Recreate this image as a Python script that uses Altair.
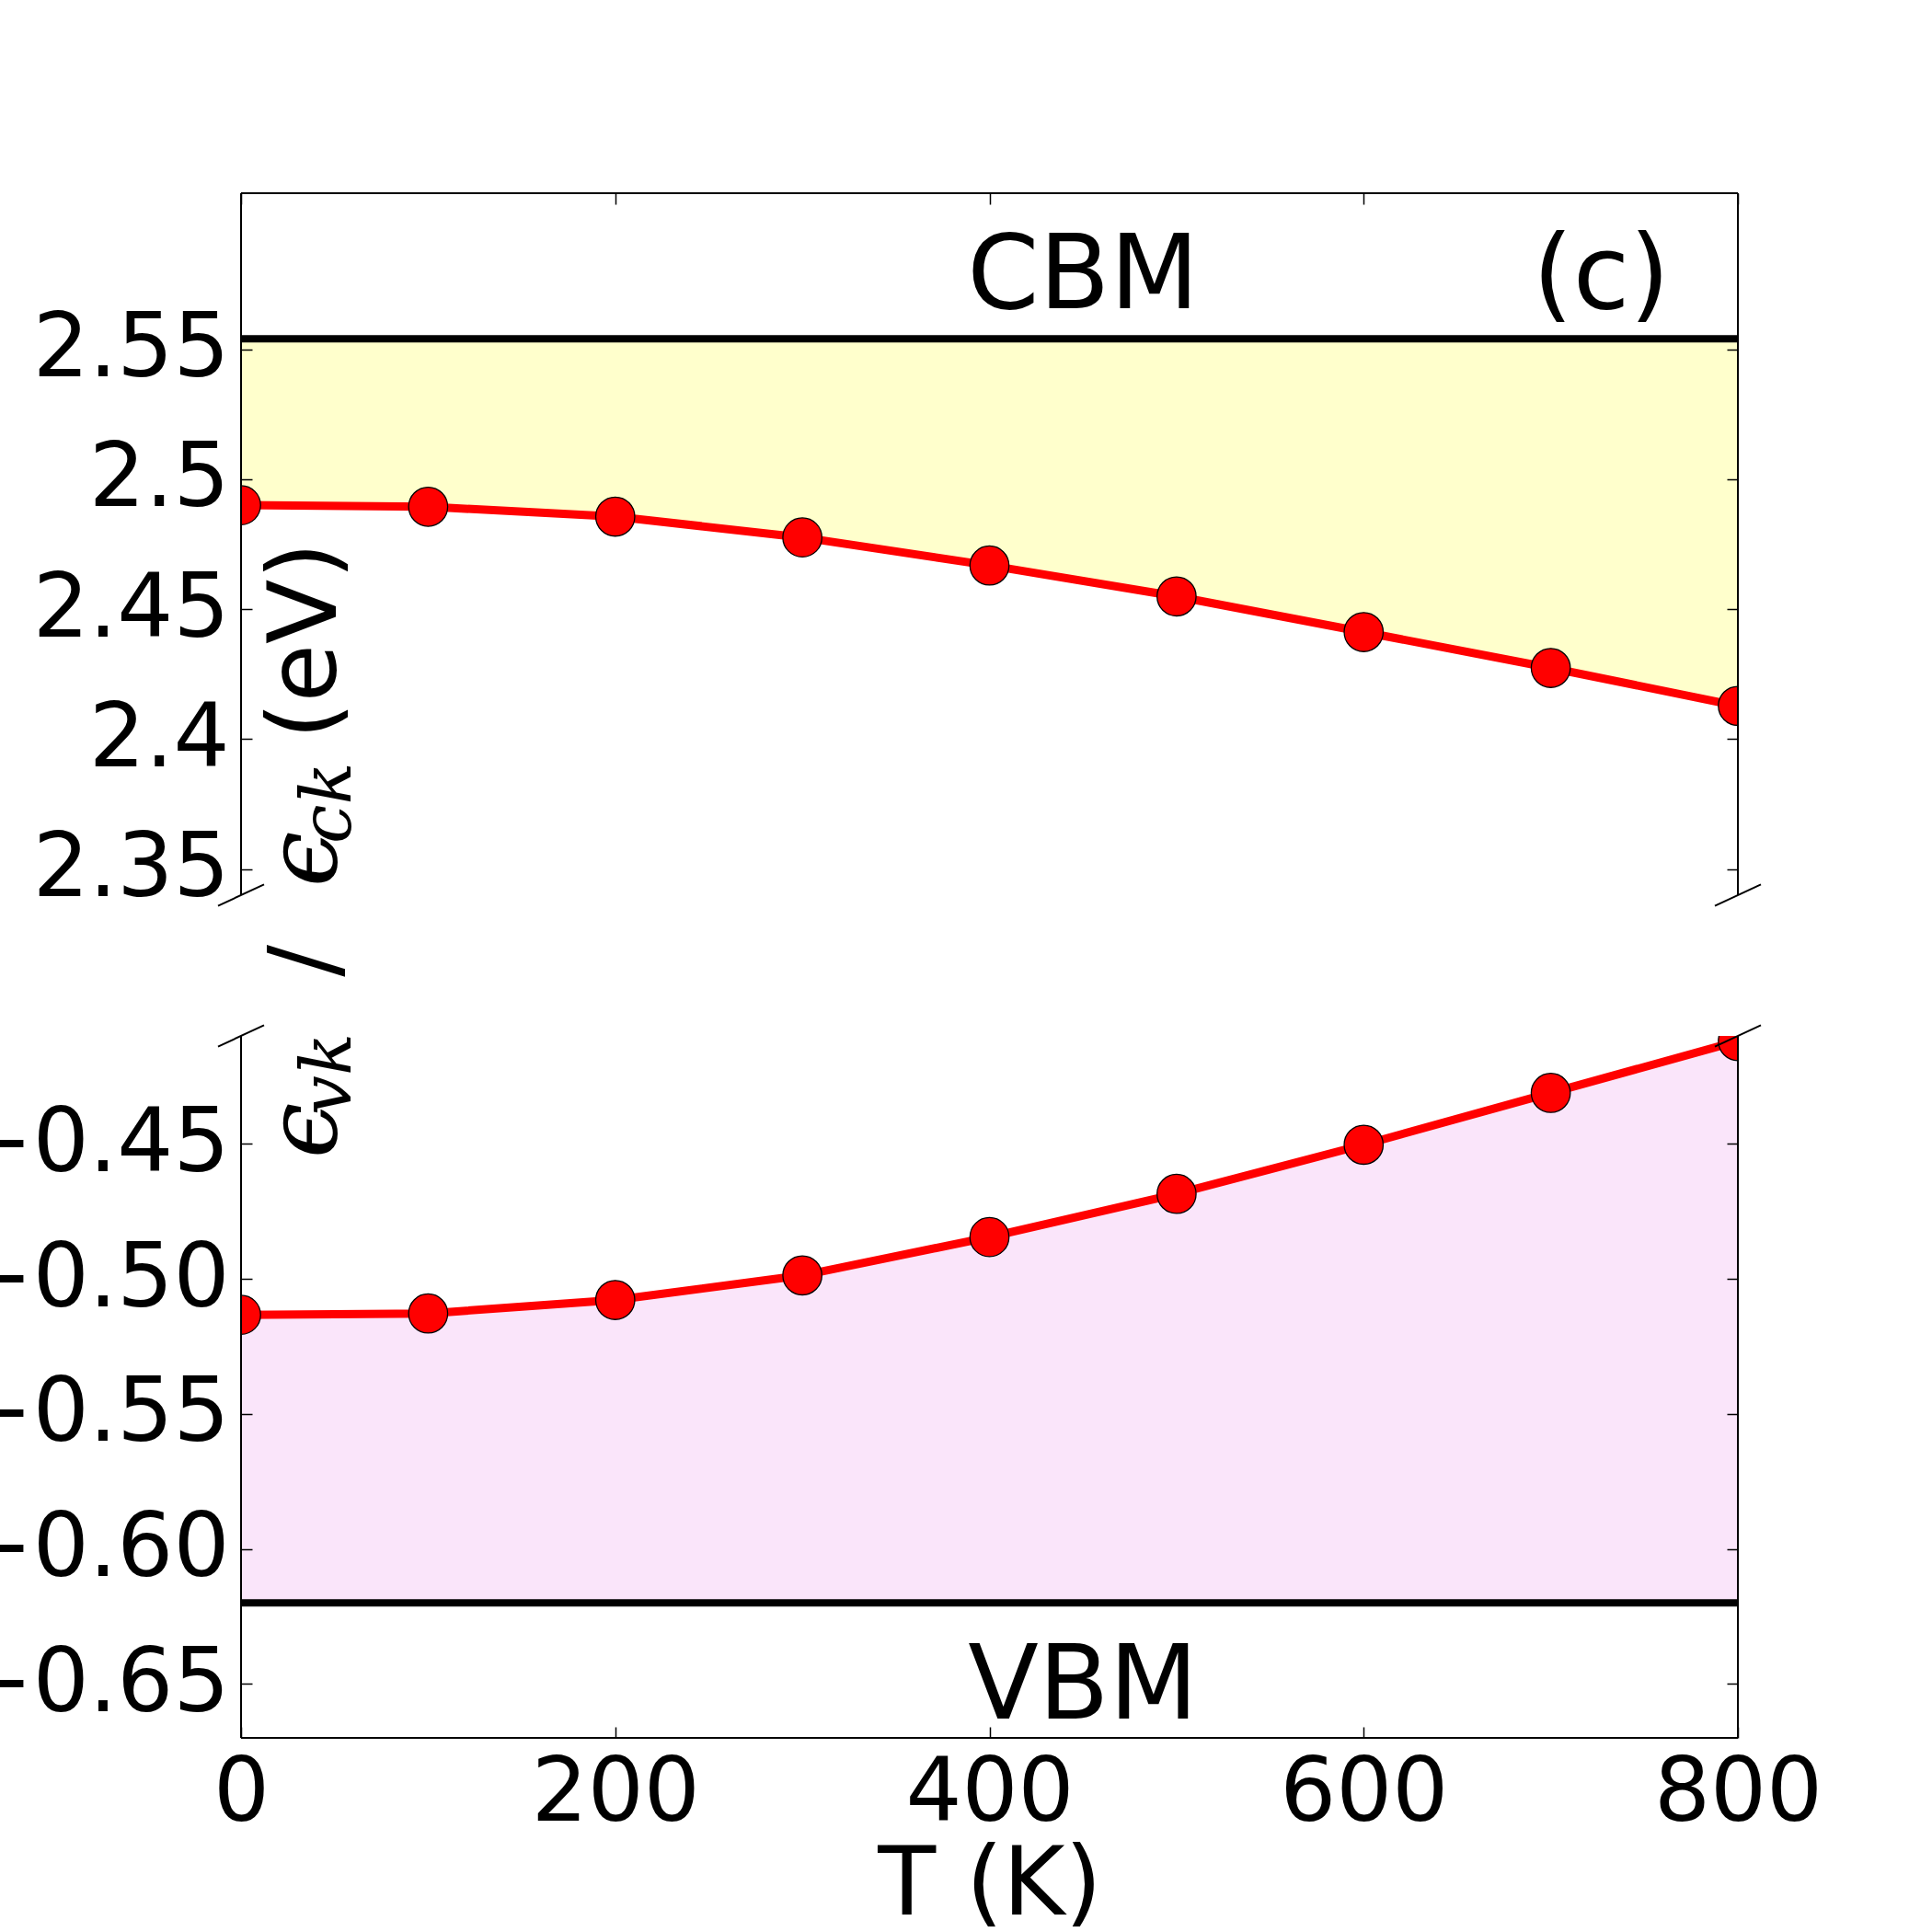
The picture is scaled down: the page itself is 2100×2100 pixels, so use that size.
import altair as alt
import pandas as pd

# ---------------- data ----------------
T = [0, 100, 200, 300, 400, 500, 600, 700, 800]
E_c = [2.4900, 2.4894, 2.4856, 2.4776, 2.4668, 2.4549, 2.4412, 2.4274, 2.4128]
E_v = [-0.5133, -0.5128, -0.5078, -0.4987, -0.4845, -0.4685, -0.4503, -0.4311, -0.4119]
CBM = 2.554
VBM = -0.620
top_ticks = [2.35, 2.40, 2.45, 2.50, 2.55]
bot_ticks = [-0.65, -0.60, -0.55, -0.50, -0.45]
x_ticks = [0, 200, 400, 600, 800]
top_domain = [2.34, 2.61]
bot_domain = [-0.67, -0.41]
top_labels = ["CBM", "(c)"]
top_label_T = [450, 727]
top_label_E = [2.5658, 2.5658]
bot_labels = ["VBM"]
bot_label_T = [450]
bot_label_E = [-0.6628]

# ---------------- layout ----------------
W = 1627
H = 763
GAP = 153
TK = 12            # inward tick length
BX, BY = 25, 11.6  # break-mark half extents

df_c = pd.DataFrame({"T": T, "E": E_c, "edge": [CBM] * len(T)})
df_v = pd.DataFrame({"T": T, "E": E_v, "edge": [VBM] * len(T)})
df_tt = pd.DataFrame({"T": top_label_T, "E": top_label_E, "label": top_labels})
df_bt = pd.DataFrame({"T": bot_label_T, "E": bot_label_E, "label": bot_labels})
one = pd.DataFrame({"k": [0]})

xs = alt.Scale(domain=[0, 800], nice=False, zero=False)
ys_top = alt.Scale(domain=top_domain, nice=False, zero=False)
ys_bot = alt.Scale(domain=bot_domain, nice=False, zero=False)

FONT = "DejaVu Sans"
TICKFS = 96


def tick_axis(orient, values, labels=False, fmt=None, title=None):
    kw = dict(
        orient=orient, values=values, tickSize=TK, tickWidth=1.5, tickColor="black",
        domain=False, offset=-TK, grid=False, labels=labels, zindex=1,
    )
    if labels:
        kw.update(labelFont=FONT, labelFontSize=TICKFS, labelColor="black",
                  labelFlush=False, labelOverlap=False, labelLimit=0)
        if orient in ("left", "right"):
            kw.update(labelPadding=13)
        else:
            kw.update(labelPadding=13)
        if fmt:
            kw.update(format=fmt)
    if title:
        kw.update(title=title, titleFont=FONT, titleFontSize=103, titleFontWeight="normal",
                  titleColor="black", titlePadding=2)
    else:
        kw.update(title=None)
    return alt.Axis(**kw)


def frame(sides):
    layers = []
    if "left" in sides:
        layers.append(alt.Chart(one).mark_rule(color="black", strokeWidth=2).encode(
            x=alt.value(0), y=alt.value(0), y2=alt.value(H)))
    if "right" in sides:
        layers.append(alt.Chart(one).mark_rule(color="black", strokeWidth=2).encode(
            x=alt.value(W), y=alt.value(0), y2=alt.value(H)))
    if "top" in sides:
        layers.append(alt.Chart(one).mark_rule(color="black", strokeWidth=2).encode(
            x=alt.value(0), x2=alt.value(W), y=alt.value(0)))
    if "bottom" in sides:
        layers.append(alt.Chart(one).mark_rule(color="black", strokeWidth=2).encode(
            x=alt.value(0), x2=alt.value(W), y=alt.value(H)))
    return layers


def breaks(yc):
    out = []
    for xc in (0, W):
        out.append(alt.Chart(one).mark_rule(color="black", strokeWidth=2).encode(
            x=alt.value(xc - BX), x2=alt.value(xc + BX),
            y=alt.value(yc + BY), y2=alt.value(yc - BY)))
    return out


def panel(df, df_txt, ys, fill, edge_val, ticks, fmt, x_axis, frame_sides, break_y):
    area = alt.Chart(df).mark_area(color=fill, opacity=1, clip=True).encode(
        x=alt.X("T:Q", scale=xs, axis=None),
        y=alt.Y("E:Q", scale=ys, axis=tick_axis("left", ticks, labels=True, fmt=fmt)),
        y2=alt.Y2("edge:Q"),
    )
    edge = alt.Chart(one).mark_rule(color="black", strokeWidth=8).encode(
        y=alt.YDatum(edge_val, scale=ys, axis=None))
    line = alt.Chart(df).mark_line(color="red", strokeWidth=9, clip=True).encode(
        x=alt.X("T:Q", scale=xs, axis=x_axis),
        y=alt.Y("E:Q", scale=ys, axis=tick_axis("right", ticks)),
    )
    pts = alt.Chart(df).mark_circle(size=1800, fill="red", stroke="black", strokeWidth=1.3,
                                    opacity=1, clip=True).encode(
        x=alt.X("T:Q", scale=xs, axis=None),
        y=alt.Y("E:Q", scale=ys, axis=None),
    )
    txt = alt.Chart(df_txt).mark_text(font=FONT, fontSize=112, align="center",
                                      baseline="alphabetic", color="black").encode(
        x=alt.X("T:Q", scale=xs, axis=None),
        y=alt.Y("E:Q", scale=ys, axis=None),
        text="label:N",
    )
    return [area, edge, line, pts, txt] + frame(frame_sides) + breaks(break_y)


# y-axis label pieces (rotated), positioned relative to the top panel
BASE_X = 103
SUB_X = BASE_X + 16


def rot_text(txt, x, y, font, size, align, style="normal"):
    return alt.Chart(one).mark_text(
        text=txt, font=font, fontSize=size, align=align, baseline="alphabetic",
        angle=270, color="black", fontStyle=style,
    ).encode(x=alt.value(x), y=alt.value(y))


ylabel = [
    rot_text("\u03f5", BASE_X, 1049, "DejaVu Serif", 108, "left", "italic"),
    rot_text("vk", SUB_X, 1002, "DejaVu Serif", 76, "left", "italic"),
    rot_text("/", BASE_X, 834.5, FONT, 103, "center"),
    rot_text("\u03f5", BASE_X, 754, "DejaVu Serif", 108, "left", "italic"),
    rot_text("ck", SUB_X, 707, "DejaVu Serif", 76, "left", "italic"),
    rot_text("(eV)", BASE_X, 486.5, FONT, 103, "center"),
]

top = alt.layer(
    *panel(df_c, df_tt, ys_top, "#FFFFCC", CBM, top_ticks, "~g",
           tick_axis("top", x_ticks), ["left", "right", "top"], H),
    *ylabel,
).resolve_axis(x="independent", y="independent").properties(width=W, height=H)

bottom = alt.layer(
    *panel(df_v, df_bt, ys_bot, "#FAE5FA", VBM, bot_ticks, ".2f",
           tick_axis("bottom", x_ticks, labels=True, title="T (K)"),
           ["left", "right", "bottom"], 0),
).resolve_axis(x="independent", y="independent").properties(width=W, height=H)

chart = alt.vconcat(top, bottom, spacing=GAP, bounds="flush").properties(
    padding={"left": -46, "top": 209, "right": 20, "bottom": 10},
    background="white",
).configure_view(stroke=None)

chart.save("out.html", embed_options={"renderer": "svg", "actions": False})
